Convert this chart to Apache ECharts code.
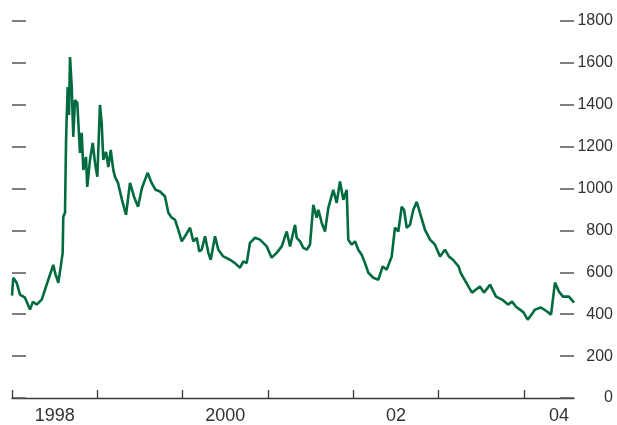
<!DOCTYPE html>
<html>
<head>
<meta charset="utf-8">
<script src="https://cdn.jsdelivr.net/npm/echarts@6/dist/echarts.min.js"></script>
<style>
  html, body { margin: 0; padding: 0; background: #fff; }
  #chart { width: 617px; height: 425px; }
</style>
</head>
<body>
<div id="chart"></div>
<script>
// Time in decimal years, spread in basis points
const years = [
  1998.000, 1998.015, 1998.055, 1998.094, 1998.152, 1998.211, 1998.246, 1998.289, 1998.348, 1998.387,
  1998.437, 1998.484, 1998.504, 1998.543, 1998.571, 1998.594, 1998.601, 1998.621, 1998.633, 1998.641,
  1998.653, 1998.668, 1998.680, 1998.700, 1998.718, 1998.738, 1998.765, 1998.797, 1998.817, 1998.836,
  1998.867, 1998.882, 1998.914, 1998.946, 1998.973, 1999.000, 1999.031, 1999.051, 1999.070, 1999.102,
  1999.129, 1999.157, 1999.187, 1999.207, 1999.242, 1999.289, 1999.336, 1999.383, 1999.430, 1999.477,
  1999.523, 1999.589, 1999.636, 1999.682, 1999.734, 1999.793, 1999.832, 1999.872, 1999.910, 1999.949,
  1999.989, 2000.027, 2000.086, 2000.125, 2000.165, 2000.195, 2000.223, 2000.262, 2000.301, 2000.329,
  2000.379, 2000.418, 2000.476, 2000.555, 2000.613, 2000.672, 2000.711, 2000.750, 2000.789, 2000.848,
  2000.906, 2000.985, 2001.043, 2001.102, 2001.161, 2001.219, 2001.258, 2001.317, 2001.336, 2001.375,
  2001.414, 2001.454, 2001.492, 2001.531, 2001.571, 2001.590, 2001.629, 2001.668, 2001.707, 2001.765,
  2001.805, 2001.844, 2001.883, 2001.922, 2001.941, 2001.981, 2002.020, 2002.058, 2002.098, 2002.137,
  2002.176, 2002.234, 2002.293, 2002.344, 2002.391, 2002.450, 2002.488, 2002.527, 2002.567, 2002.594,
  2002.626, 2002.664, 2002.703, 2002.743, 2002.781, 2002.840, 2002.899, 2002.957, 2003.016, 2003.074,
  2003.121, 2003.168, 2003.235, 2003.257, 2003.350, 2003.391, 2003.484, 2003.531, 2003.602, 2003.672,
  2003.742, 2003.813, 2003.860, 2003.906, 2003.953, 2003.996, 2004.043, 2004.088, 2004.129, 2004.199,
  2004.270, 2004.317, 2004.363, 2004.410, 2004.457, 2004.527, 2004.586
];
const spread = [
  489, 574, 550, 494, 479, 422, 460, 446, 470, 517,
  579, 636, 598, 550, 627, 694, 866, 884, 1218, 1342,
  1485, 1351, 1628, 1485, 1247, 1423, 1409, 1170, 1266, 1089,
  1151, 1008, 1137, 1218, 1122, 1056, 1399, 1313, 1137, 1175,
  1103, 1184, 1089, 1056, 1027, 946, 875, 1027, 961, 913,
  1003, 1075, 1027, 994, 986, 962, 884, 861, 851, 803,
  748, 772, 813, 748, 765, 700, 708, 772, 693, 660,
  772, 708, 676, 660, 644, 622, 652, 644, 741, 765,
  756, 724, 670, 693, 724, 795, 724, 827, 765, 748,
  717, 708, 732, 922, 861, 899, 837, 795, 908, 994,
  932, 1034, 946, 994, 756, 732, 748, 708, 684, 644,
  598, 574, 565, 628, 613, 676, 813, 795, 913, 899,
  813, 827, 899, 937, 884, 803, 756, 732, 676, 708,
  675, 660, 627, 598, 532, 503, 532, 503, 541, 484,
  470, 446, 460, 436, 422, 408, 374, 398, 422, 432,
  413, 398, 551, 508, 484, 484, 455
];
const tickYears = [1998, 1999, 2000, 2001, 2002, 2003, 2004];
const labelPos = [1998.5, 2000.5, 2002.5, 2004.41];
const yearLabels = ['1998', '2000', '02', '04'];

const chart = echarts.init(document.getElementById('chart'));

chart.setOption({
  animation: false,
  grid: { left: 12, right: 43, top: 21, bottom: 26.5, containLabel: false },
  xAxis: {
    type: 'value',
    min: 1998,
    max: 2004.586,
    axisLine: { show: true, lineStyle: { color: '#3a3a3a', width: 1.3 } },
    axisTick: {
      show: true, inside: true, length: 8,
      customValues: tickYears,
      lineStyle: { color: '#3a3a3a', width: 1.3 }
    },
    axisLabel: {
      customValues: labelPos,
      margin: 9,
      color: '#333',
      fontFamily: '"Liberation Sans Narrow", "Liberation Sans", Arial, sans-serif',
      fontSize: 18,
      formatter: (v) => {
        const i = labelPos.findIndex(p => Math.abs(p - v) < 0.01);
        return i >= 0 ? yearLabels[i] : '';
      }
    },
    splitLine: { show: false }
  },
  yAxis: [
    {
      type: 'value', position: 'left', min: 0, max: 1800, interval: 200,
      axisLine: { show: false },
      axisTick: { show: true, inside: true, length: 14, lineStyle: { color: '#555', width: 1.5 } },
      axisLabel: { show: false },
      splitLine: { show: false }
    },
    {
      type: 'value', position: 'right', min: 0, max: 1800, interval: 200,
      axisLine: { show: false },
      axisTick: { show: true, inside: true, length: 14, lineStyle: { color: '#555', width: 1.5 } },
      axisLabel: {
        align: 'right', margin: 39, color: '#333',
        fontFamily: '"Liberation Sans Narrow", "Liberation Sans", Arial, sans-serif',
        fontSize: 16,
        formatter: (v) => String(v)
      },
      splitLine: { show: false }
    }
  ],
  series: [{
    type: 'line',
    yAxisIndex: 1,
    data: years.map((y, i) => [y, spread[i]]),
    showSymbol: false,
    lineStyle: { color: '#006b3f', width: 2.6 },
    z: 3
  }]
});
</script>
</body>
</html>
